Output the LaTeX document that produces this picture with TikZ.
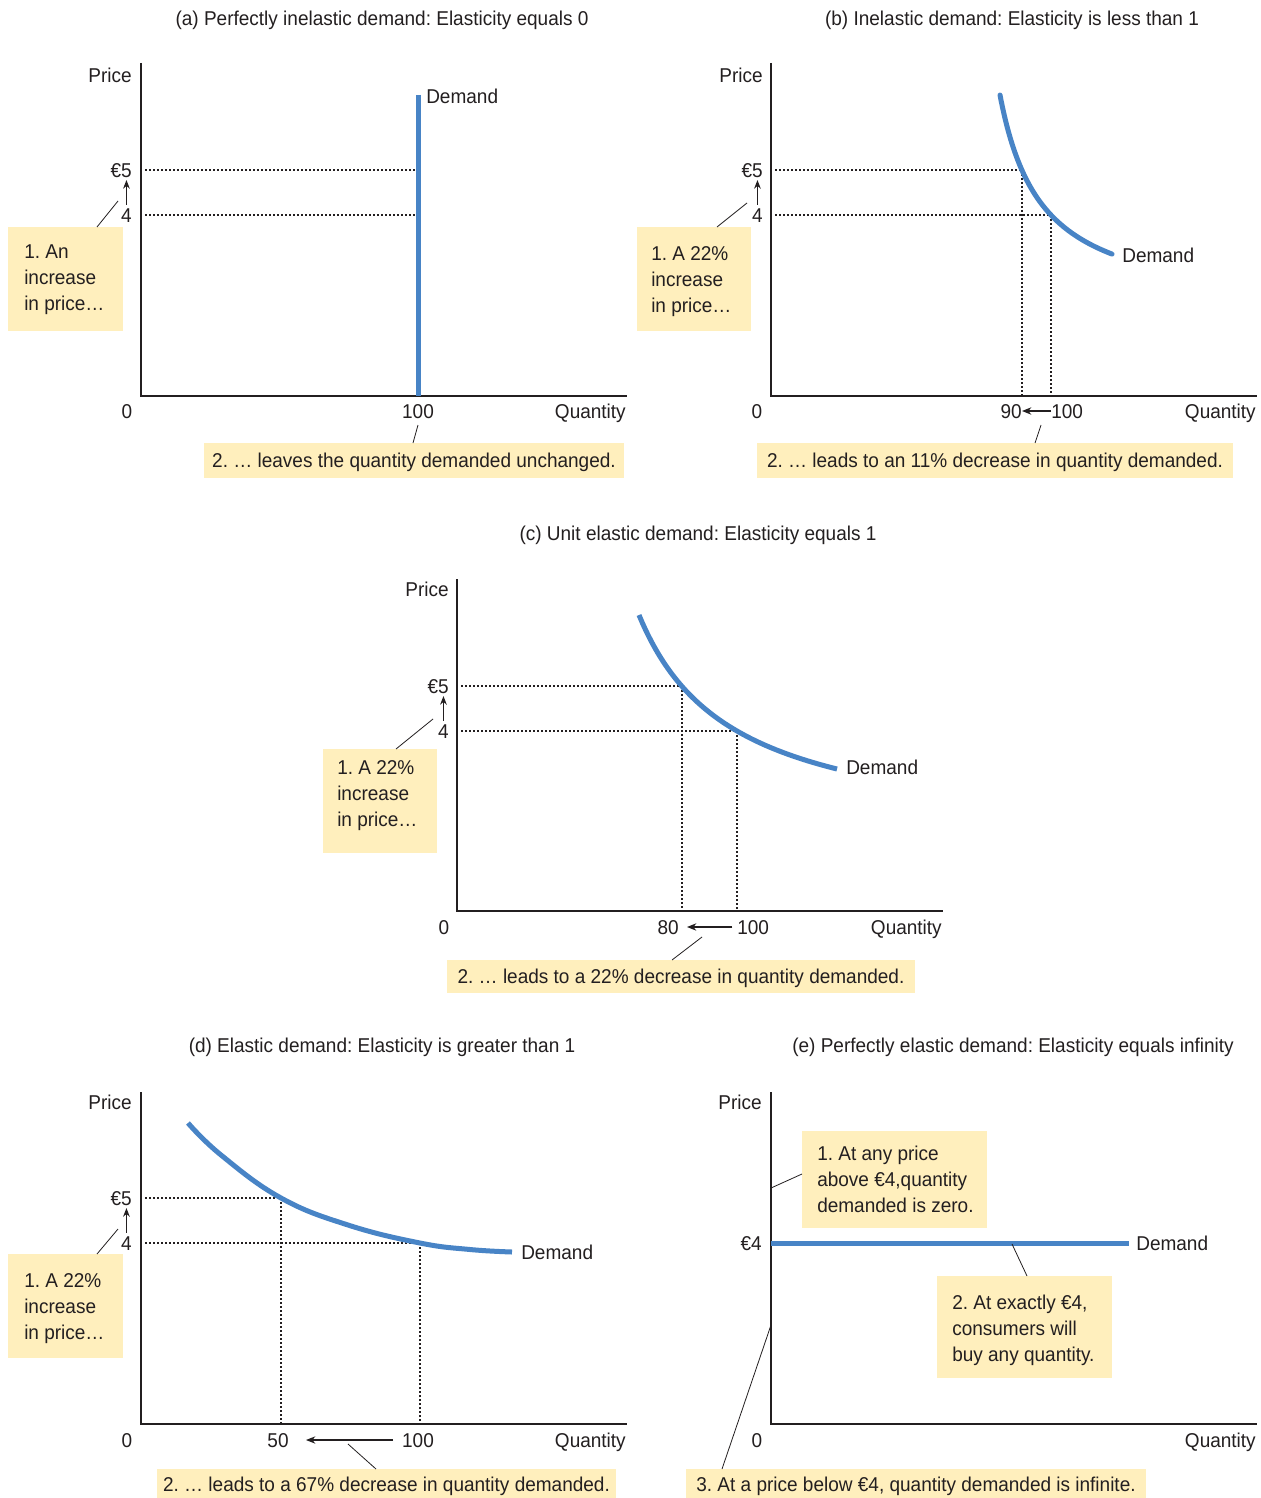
\documentclass[tikz,border=0pt]{standalone}
\usepackage{fontspec}
\setmainfont[FakeStretch=0.95]{Liberation Sans}
\usetikzlibrary{arrows.meta}
\definecolor{dblue}{RGB}{72,132,198}
\definecolor{noteyel}{RGB}{255,239,189}
\definecolor{txt}{RGB}{35,31,32}
\newcommand\lblf{\fontsize{15}{19.5}\selectfont}
\newcommand\ttlf{\fontsize{15}{18}\selectfont}
\frenchspacing
\begin{document}
\begin{tikzpicture}[x=0.75pt,y=-0.75pt,
  lab/.style={inner sep=0pt, font=\lblf, text=txt, text height=10.7pt, text depth=0pt},
  ttl/.style={inner sep=0pt, font=\ttlf, text=txt, text height=10.7pt, text depth=0pt},
  axis/.style={draw=txt, line width=1.1pt},
  dem/.style={draw=dblue, line width=3.75pt},
  guide/.style={draw=txt, line width=1.3pt, dash pattern=on 1.3pt off 1.7pt},
  notebox/.style={fill=noteyel, inner sep=0pt},
  notetext/.style={inner sep=0pt, align=left, font=\lblf, text=txt},
  lead/.style={draw=txt, line width=0.6pt},
  parrow/.style={draw=txt, line width=0.9pt, -{Stealth[length=6.5pt,width=5pt]}},
  qarrow/.style={draw=txt, line width=0.9pt, -{Stealth[length=7pt,width=5.5pt]}}]
\path[use as bounding box, fill=white] (0,0) rectangle (1260,1498);

% ================= (a) =================
\node[ttl] (ta) at (382,18) {(a) Perfectly inelastic demand: Elasticity equals 0};
\draw[axis] (141,63) -- (141,396) -- (627,396);
\node[lab,anchor=east] (aprice) at (132,75) {Price};
\node[lab,anchor=east] (a5) at (132,170) {€5};
\node[lab,anchor=east] (a4) at (132,215) {4};
\draw[parrow, shorten <=2pt, shorten >=2pt] (a4.north) -- (a4.north |- a5.south);
\draw[guide] (145,170) -- (416,170);
\draw[guide] (145,215) -- (416,215);
\draw[dem] (418,95) -- (418,396);
\node[lab,anchor=west] (adem) at (426,96) {Demand};
\node[lab] (a0) at (127,411) {0};
\node[lab] (a100) at (418,411) {100};
\node[lab,anchor=east] (aq) at (626,411) {Quantity};
\node[notebox, minimum width=86.25pt, minimum height=78pt, anchor=north west] (a1) at (8,227) {};
\node[notetext, anchor=north west] (a1t) at (24,244) {1. An\\increase\\in price…};
\draw[lead] (97,227) -- (118,201);
\node[notebox, lab, minimum width=315pt, minimum height=26.25pt] (a2) at (414,460.5) {2. … leaves the quantity demanded unchanged.};
\draw[lead] (413,443) -- (418,425);

% ================= (b) =================
\node[ttl] (tb) at (1012,18) {(b) Inelastic demand: Elasticity is less than 1};
\draw[axis] (771,63) -- (771,396) -- (1257,396);
\node[lab,anchor=east] (bprice) at (763,75) {Price};
\node[lab,anchor=east] (b5) at (763,170) {€5};
\node[lab,anchor=east] (b4) at (763,215) {4};
\draw[parrow, shorten <=2pt, shorten >=2pt] (b4.north) -- (b4.north |- b5.south);
\draw[guide] (775,170) -- (1022,170);
\draw[guide] (775,215) -- (1051,215);
\draw[guide] (1022,170) -- (1022,396);
\draw[guide] (1051,215) -- (1051,396);
\draw[dem, line cap=round] plot[domain=1000:1112, samples=60, smooth] (\x, {313.4 - 91.27/((\x-958.2)/100)});
\node[lab,anchor=west] (bdem) at (1122,255) {Demand};
\node[lab] (b0) at (757,411) {0};
\node[lab,anchor=east] (b90) at (1022,411) {90};
\node[lab,anchor=west] (b100) at (1051,411) {100};
\draw[qarrow] (b100.west) -- (b90.east);
\node[lab,anchor=east] (bq) at (1256,411) {Quantity};
\node[notebox, minimum width=85.5pt, minimum height=78pt, anchor=north west] (b1) at (637,227) {};
\node[notetext, anchor=north west] (b1t) at (651,246) {1. A 22\%\\increase\\in price…};
\draw[lead] (717,227) -- (747,203);
\node[notebox, lab, minimum width=357pt, minimum height=26.25pt] (b2) at (995,460.5) {2. … leads to an 11\% decrease in quantity demanded.};
\draw[lead] (1035,443) -- (1041,425);

% ================= (c) =================
\node[ttl] (tc) at (698,533) {(c) Unit elastic demand: Elasticity equals 1};
\draw[axis] (457,579) -- (457,911) -- (943,911);
\node[lab,anchor=east] (cprice) at (449,589) {Price};
\node[lab,anchor=east] (c5) at (449,686) {€5};
\node[lab,anchor=east] (c4) at (449,731) {4};
\draw[parrow, shorten <=2pt, shorten >=2pt] (c4.north) -- (c4.north |- c5.south);
\draw[guide] (461,686) -- (682,686);
\draw[guide] (461,731) -- (737,731);
\draw[guide] (682,686) -- (682,911);
\draw[guide] (737,731) -- (737,911);
\draw[dem] plot[domain=639:837, samples=60, smooth] (\x, {841.8 - 212.28/((\x-545.4)/100)});
\node[lab,anchor=west] (cdem) at (846,767) {Demand};
\node[lab] (c0) at (444,927) {0};
\node[lab,anchor=east] (c80) at (679,927) {80};
\node[lab,anchor=west] (c100) at (737,927) {100};
\draw[qarrow] ([xshift=-3.5pt]c100.west) -- ([xshift=6pt]c80.east);
\node[lab,anchor=east] (cq) at (942,927) {Quantity};
\node[notebox, minimum width=85.5pt, minimum height=78pt, anchor=north west] (c1) at (323,749) {};
\node[notetext, anchor=north west] (c1t) at (337,760) {1. A 22\%\\increase\\in price…};
\draw[lead] (396,749) -- (433,719);
\node[notebox, lab, minimum width=351pt, minimum height=24.75pt] (c2) at (681,976.5) {2. … leads to a 22\% decrease in quantity demanded.};
\draw[lead] (672,960) -- (702,937);

% ================= (d) =================
\node[ttl] (td) at (382,1045) {(d) Elastic demand: Elasticity is greater than 1};
\draw[axis] (141,1092) -- (141,1424) -- (627,1424);
\node[lab,anchor=east] (dprice) at (132,1102) {Price};
\node[lab,anchor=east] (d5) at (132,1198) {€5};
\node[lab,anchor=east] (d4) at (132,1243) {4};
\draw[parrow, shorten <=2pt, shorten >=2pt] (d4.north) -- (d4.north |- d5.south);
\draw[guide] (145,1198) -- (281,1198);
\draw[guide] (145,1243) -- (420,1243);
\draw[guide] (281,1198) -- (281,1424);
\draw[guide] (420,1243) -- (420,1424);
\draw[dem] plot[smooth, tension=0.7] coordinates {(188,1123) (221,1155) (281,1198) (348,1225) (420,1243) (470,1249.5) (512,1252)};
\node[lab,anchor=west] (ddem) at (521,1252) {Demand};
\node[lab] (d0) at (127,1440) {0};
\node[lab] (d50) at (278,1440) {50};
\node[lab] (d100) at (418,1440) {100};
\draw[qarrow] (393,1440) -- (306,1440);
\node[lab,anchor=east] (dq) at (626,1440) {Quantity};
\node[notebox, minimum width=86.25pt, minimum height=78pt, anchor=north west] (d1) at (8,1254) {};
\node[notetext, anchor=north west] (d1t) at (24,1273) {1. A 22\%\\increase\\in price…};
\draw[lead] (97,1254) -- (118,1229);
\node[notebox, lab, minimum width=344.25pt, minimum height=23.25pt] (d2) at (386.5,1484.5) {2. … leads to a 67\% decrease in quantity demanded.};
\draw[lead] (348,1444) -- (376,1469);

% ================= (e) =================
\node[ttl] (te) at (1013,1045) {(e) Perfectly elastic demand: Elasticity equals infinity};
\draw[axis] (771,1092) -- (771,1424) -- (1257,1424);
\node[lab,anchor=east] (eprice) at (762,1102) {Price};
\node[lab,anchor=east] (e4) at (762,1243) {€4};
\draw[dem] (771,1243) -- (1129,1243);
\node[lab,anchor=west] (edem) at (1136,1243) {Demand};
\node[lab] (e0) at (757,1440) {0};
\node[lab,anchor=east] (eq) at (1256,1440) {Quantity};
\node[notebox, minimum width=138.75pt, minimum height=72.75pt, anchor=north west] (e1) at (802,1131) {};
\node[notetext, anchor=north west] (e1t) at (817,1146) {1. At any price\\above €4,quantity\\demanded is zero.};
\draw[lead] (771,1188) -- (802,1174);
\node[notebox, minimum width=131.25pt, minimum height=76.5pt, anchor=north west] (e2) at (937,1276) {};
\node[notetext, anchor=north west] (e2t) at (952,1295) {2. At exactly €4,\\consumers will\\buy any quantity.};
\draw[lead] (1012,1244) -- (1027,1276);
\node[notebox, lab, minimum width=345pt, minimum height=23.25pt] (e3) at (916,1484.5) {3. At a price below €4, quantity demanded is infinite.};
\draw[lead] (771,1325) -- (722,1469);
\end{tikzpicture}
\end{document}
